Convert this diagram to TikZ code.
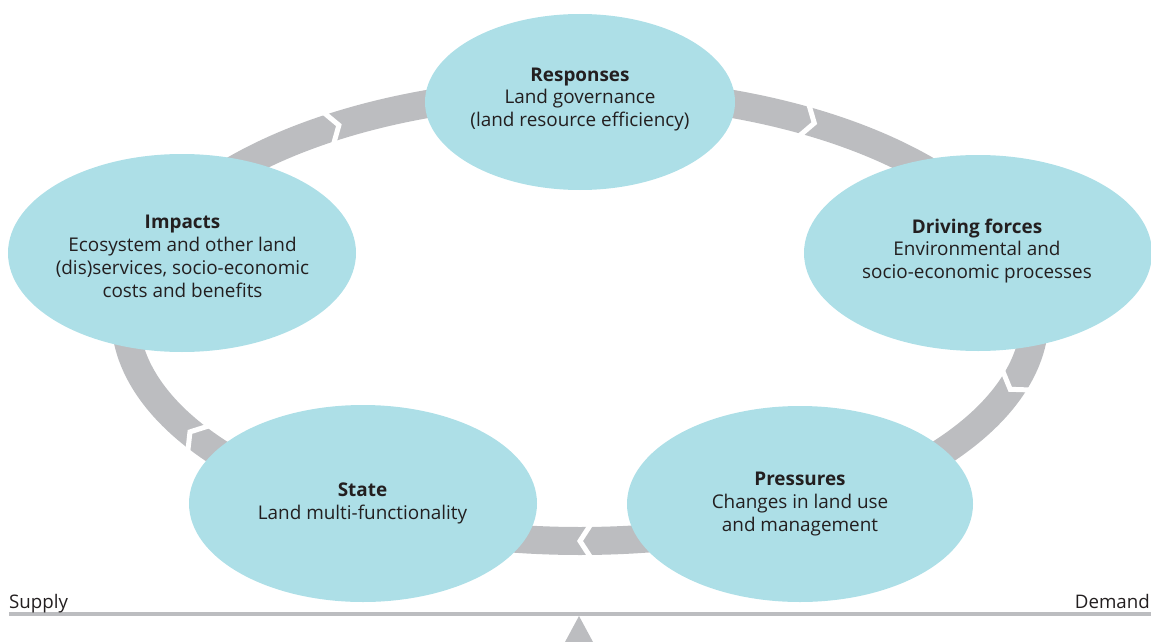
\documentclass[tikz,border=0pt]{standalone}
\usepackage{fontspec}
\setmainfont{Open Sans}
\usetikzlibrary{shapes.geometric}
\definecolor{blobc}{HTML}{ADDFE7}
\definecolor{bandc}{HTML}{BCBDC0}
\definecolor{ink}{HTML}{231F20}
\begin{document}
\begin{tikzpicture}[x=1pt,y=1pt,
  blobnode/.style={ellipse, fill=blobc, draw=none, inner sep=0pt},
  txt/.style={text=ink, align=center, font=\fontsize{18.9}{22.8}\selectfont, inner sep=0pt},
  endlabel/.style={text=ink, font=\fontsize{18.7}{20}\selectfont, inner sep=0pt},
  gapline/.style={draw=white, line width=5pt, line join=miter}]
\useasboundingbox (0,0) rectangle (1151,-642);
% ring
\draw[bandc, line width=28pt] (580,-316) ellipse [x radius=455pt, y radius=225pt];
% chevron gaps (flow clockwise)
\foreach \px/\py/\ang in {338.9/-125.2/17.2, 814.3/-123.1/-16.6, 1010.2/-389.3/-124.8, 580/-541/180, 190.0/-431.9/140.6}
  \draw[gapline, shift={(\px,\py)}, rotate=\ang] (-11,17) -- (0,0) -- (-11,-17);
% ellipses
\node[blobnode, minimum width=348pt, minimum height=198pt] (impacts) at (182,-253) {};
\node[blobnode, minimum width=310pt, minimum height=176pt] (responses) at (580,-102) {};
\node[blobnode, minimum width=348pt, minimum height=196pt] (driving) at (978,-253) {};
\node[blobnode, minimum width=346pt, minimum height=196pt] (pressures) at (800,-504) {};
\node[blobnode, minimum width=348pt, minimum height=197pt] (state) at (363,-503.5) {};
% texts
\node[txt] (responses-t) at (580,-99.5) {\textbf{Responses}\\Land governance\\(land resource efficiency)};
\node[txt] (impacts-t) at (182.5,-256.5) {\textbf{Impacts}\\Ecosystem and other land\\(dis)services, socio-economic\\costs and benefits};
\node[txt] (driving-t) at (977,-251) {\textbf{Driving forces}\\Environmental and\\socio-economic processes};
\node[txt] (pressures-t) at (800,-504) {\textbf{Pressures}\\Changes in land use\\and management};
\node[txt] (state-t) at (362.5,-503.5) {\textbf{State}\\Land multi-functionality};
% balance
\fill[bandc] (9,-612) rectangle (1151,-616);
\fill[bandc] (579,-616) -- (593,-642) -- (565,-642) -- cycle;
\node[endlabel, anchor=base west] (supply) at (9,-608) {Supply};
\node[endlabel, anchor=base east] (demand) at (1150,-608) {Demand};
\end{tikzpicture}
\end{document}
